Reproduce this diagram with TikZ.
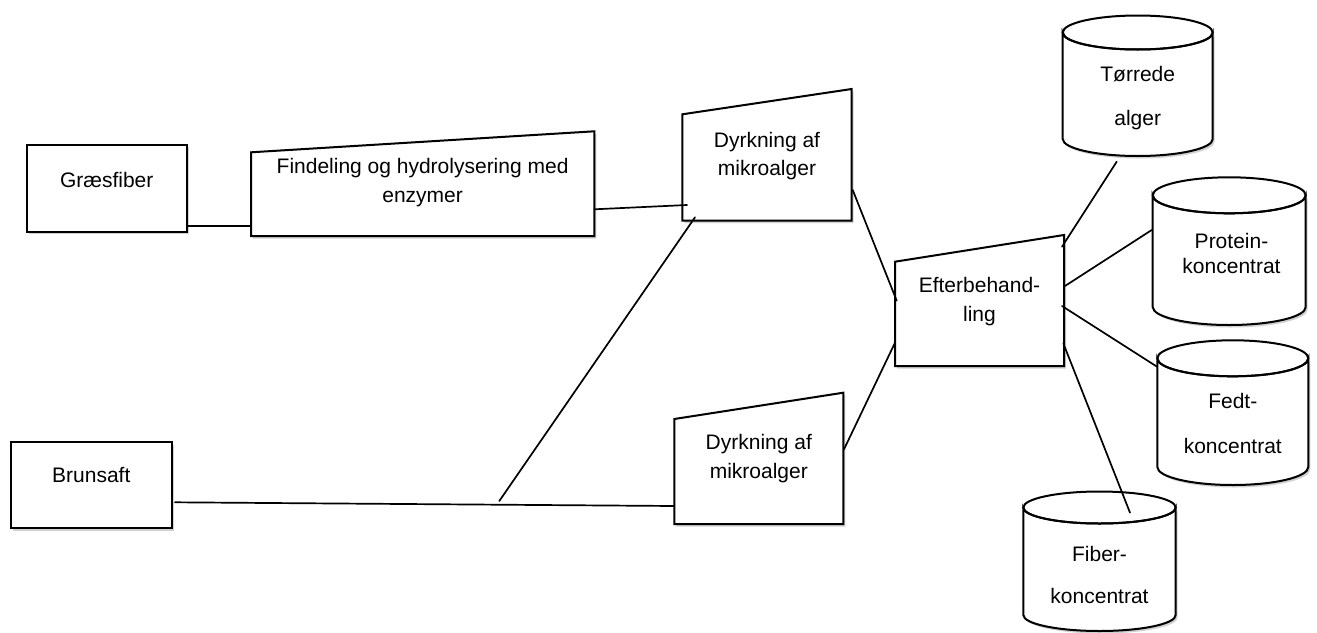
\documentclass[tikz,border=0pt]{standalone}
\usepackage{fontspec}
\setmainfont{Liberation Sans}
\usetikzlibrary{shadows}
\newcommand\drawcyl[5]{% cx, top centre y, bottom centre y, rx, ry
  \path[shapeline] ({#1-#4},#2) -- ({#1-#4},#3)
    arc[start angle=180, end angle=0, x radius=#4, y radius=#5]
    -- ({#1+#4},#2)
    arc[start angle=0, end angle=180, x radius=#4, y radius=#5] -- cycle;
  \draw[line width=2pt] (#1,#2) ellipse[x radius=#4, y radius=#5];
}
\begin{document}
\begin{tikzpicture}[x=1pt,y=-1pt,
  shapeline/.style={draw=black, line width=2pt, fill=white, line join=miter,
    drop shadow={shadow xshift=2pt, shadow yshift=-2.5pt, opacity=0.18, fill=black}},
  conn/.style={line width=1.7pt, line cap=round},
  lbl/.style={align=center, inner sep=0pt, text=black},
]
\useasboundingbox[fill=white] (0,0) rectangle (1317,632);

% ---------- boxes ----------
\node[shapeline, rectangle, minimum width=160pt, minimum height=86.7pt, inner sep=0pt]
  (gras) at (106.7,188.3) {};
\node[shapeline, rectangle, minimum width=160.7pt, minimum height=86pt, inner sep=0pt]
  (brun) at (91.3,485.3) {};

\draw[shapeline] (251,152.3) coordinate (find-tl) -- (594.3,131.3) coordinate (find-tr)
  -- (594.3,236) coordinate (find-br) -- (251,236) coordinate (find-bl) -- cycle;
\draw[shapeline] (682.3,114.3) coordinate (dyrkA-tl) -- (851.7,89) coordinate (dyrkA-tr)
  -- (851.7,220.7) coordinate (dyrkA-br) -- (682.3,220.7) coordinate (dyrkA-bl) -- cycle;
\draw[shapeline] (674.3,419) coordinate (dyrkB-tl) -- (843.3,392.7) coordinate (dyrkB-tr)
  -- (843.3,524) coordinate (dyrkB-br) -- (674.3,524) coordinate (dyrkB-bl) -- cycle;
\draw[shapeline] (895,261.7) coordinate (eft-tl) -- (1064,235) coordinate (eft-tr)
  -- (1064,366) coordinate (eft-br) -- (895,366) coordinate (eft-bl) -- cycle;

% ---------- cylinders ----------
\drawcyl{1137.7}{32.5}{139}{75}{17}
\drawcyl{1229.2}{195.3}{307}{76.5}{18}
\drawcyl{1232.8}{358.3}{467}{75.5}{18}
\drawcyl{1099.5}{507.5}{615}{76.2}{16}

% ---------- texts ----------
\node[lbl, font=\fontsize{21}{28}\selectfont] (gras-t) at (106.7,179.7) {Græsfiber};
\node[lbl, font=\fontsize{21}{28}\selectfont] (brun-t) at (91.3,475) {Brunsaft};
\node[lbl, font=\fontsize{21}{28.7}\selectfont] (find-t) at (422.6,182.9)
  {Findeling og hydrolysering med\\enzymer};
\node[lbl, font=\fontsize{21}{27.8}\selectfont] (dyrkA-t) at (767,156)
  {Dyrkning af\\mikroalger};
\node[lbl, font=\fontsize{21}{28.3}\selectfont] (dyrkB-t) at (758.8,458.7)
  {Dyrkning af\\mikroalger};
\node[lbl, font=\fontsize{21}{29}\selectfont] (eft-t) at (979.5,301.7)
  {Efterbehand-\\ling};
\node[lbl, font=\fontsize{21}{44.3}\selectfont] (tor-t) at (1137.7,98.4)
  {Tørrede\\alger};
\node[lbl, font=\fontsize{21}{25.7}\selectfont] (prot-t) at (1231.5,253.5)
  {Protein-\\koncentrat};
\node[lbl, font=\fontsize{21}{45}\selectfont] (fedt-t) at (1232.8,423.2)
  {Fedt-\\koncentrat};
\node[lbl, font=\fontsize{21}{42.3}\selectfont] (fib-t) at (1099.5,575.2)
  {Fiber-\\koncentrat};

% ---------- connector end points ----------
\coordinate (gras-out) at (187.5,226);
\coordinate (find-in) at (251,226);
\coordinate (find-out) at (594.3,209.3);
\coordinate (dyrkA-in) at (687,205);
\coordinate (dyrkA-down) at (695,217.3);
\coordinate (junc) at (499.3,501);
\coordinate (brun-out) at (175,502.3);
\coordinate (dyrkB-in) at (674.3,506);
\coordinate (dyrkA-out) at (852.7,190);
\coordinate (eft-inA) at (896.7,300.7);
\coordinate (dyrkB-out) at (844,449.3);
\coordinate (eft-inB) at (895,342.7);
\coordinate (eft-o1) at (1062,246.7);
\coordinate (tor-in) at (1116.7,161.7);
\coordinate (eft-o2) at (1065,286);
\coordinate (prot-in) at (1151.7,230);
\coordinate (eft-o3) at (1062,306);
\coordinate (fedt-in) at (1157,366.7);
\coordinate (eft-o4) at (1063.3,343.3);
\coordinate (fib-in) at (1130,512.7);

% ---------- connectors ----------
\draw[conn] (gras-out) -- (find-in);
\draw[conn] (find-out) -- (dyrkA-in);
\draw[conn] (dyrkA-down) -- (junc);
\draw[conn] (brun-out) -- (dyrkB-in);
\draw[conn] (dyrkA-out) -- (eft-inA);
\draw[conn] (dyrkB-out) -- (eft-inB);
\draw[conn] (eft-o1) -- (tor-in);
\draw[conn] (eft-o2) -- (prot-in);
\draw[conn] (eft-o3) -- (fedt-in);
\draw[conn] (eft-o4) -- (fib-in);
\end{tikzpicture}
\end{document}
